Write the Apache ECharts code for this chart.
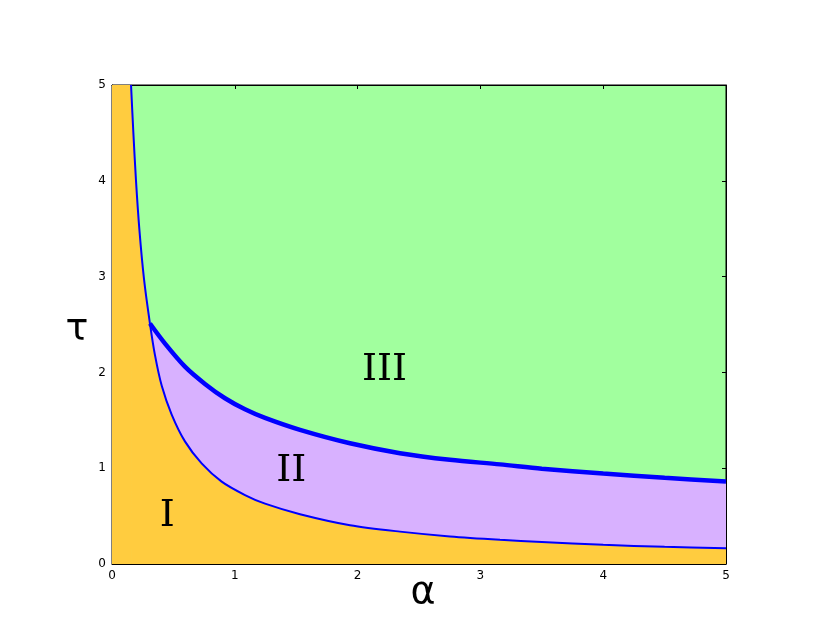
<!DOCTYPE html>
<html>
<head>
<meta charset="utf-8">
<script src="https://cdn.jsdelivr.net/npm/echarts@6/dist/echarts.min.js"></script>
<style>html,body{margin:0;padding:0;background:#fff}#c{width:830px;height:635px}</style>
</head>
<body>
<div id="c"></div>
<script>
// boundary between region I and region II/III (thin curve), [alpha, tau]
const lowerCurve = [[0.155,5.0],[0.174,4.5],[0.195,4.01],[0.223,3.49],[0.261,2.97],[0.309,2.51],[0.350,2.18],[0.405,1.86],[0.486,1.56],[0.594,1.28],[0.730,1.05],[0.893,0.86],[1.083,0.72],[1.246,0.63],[1.531,0.52],[1.938,0.405],[2.345,0.338],[2.752,0.288],[3.16,0.253],[3.5,0.23],[4.0,0.2],[4.5,0.18],[5.0,0.165]];
// boundary between region II and region III (thick curve)
const upperCurve = [[0.309,2.51],[0.432,2.30],[0.594,2.06],[0.757,1.88],[0.920,1.73],[1.083,1.615],[1.246,1.525],[1.531,1.40],[1.938,1.26],[2.345,1.157],[2.752,1.088],[3.16,1.04],[3.5,0.995],[4.0,0.945],[4.5,0.9],[5.0,0.86]];
// region I above the plot top for small alpha
const leftStrip = [[0,5],[0.155,5]];
const regionLabels = [{name:'I', value:[0.45,0.50]},{name:'II', value:[1.46,0.97]},{name:'III', value:[2.22,2.02]}];
const xAxisTitle = 'α', yAxisTitle = 'τ';

const ORANGE = '#FFCC3F', GREEN = '#A1FF9E', PURPLE = '#D8B1FF', BLUE = '#0000FF';

const chart = echarts.init(document.getElementById('c'), null, {renderer:'canvas'});
const axisCommon = {
  type:'value', min:0, max:5, interval:1,
  axisLine:{show:true, onZero:false, lineStyle:{color:'#000', width:1}},
  axisTick:{show:true, inside:true, length:4, lineStyle:{color:'#000'}},
  splitLine:{show:false},
  axisLabel:{color:'#000', fontSize:12, fontFamily:'DejaVu Sans', margin:6}
};
const titleStyle = {fontSize:38, fontFamily:'DejaVu Sans', fill:'#000', textAlign:'center', textVerticalAlign:'middle'};
chart.setOption({
  animation:false,
  backgroundColor:'#fff',
  grid:{left:112, right:104, top:85, bottom:71, show:true, backgroundColor:GREEN, borderColor:'#000', borderWidth:1, containLabel:false},
  xAxis:[
    Object.assign({}, axisCommon, {position:'bottom'}),
    Object.assign({}, axisCommon, {position:'top', axisLabel:{show:false}})
  ],
  yAxis:[
    Object.assign({}, axisCommon, {position:'left'}),
    Object.assign({}, axisCommon, {position:'right', axisLabel:{show:false}})
  ],
  graphic:[
    {type:'text', style:Object.assign({text:xAxisTitle}, titleStyle), x:423, y:593},
    {type:'text', style:Object.assign({text:yAxisTitle}, titleStyle), x:77, y:330}
  ],
  series:[
    {type:'line', data:upperCurve, smooth:0.3, symbol:'none', lineStyle:{width:0}, areaStyle:{color:PURPLE, opacity:1}, z:1},
    {type:'line', data:leftStrip, symbol:'none', lineStyle:{width:0}, areaStyle:{color:ORANGE, opacity:1}, z:2},
    {type:'line', data:lowerCurve, smooth:0.3, symbol:'none', lineStyle:{width:0}, areaStyle:{color:ORANGE, opacity:1}, z:2},
    {type:'line', data:lowerCurve, smooth:0.3, symbol:'none', lineStyle:{width:2, color:BLUE}, z:3},
    {type:'line', data:upperCurve, smooth:0.3, symbol:'none', lineStyle:{width:4.5, color:BLUE}, z:4},
    {type:'scatter', data:regionLabels, symbolSize:0, z:5, itemStyle:{opacity:1},
      label:{show:true, position:'inside', formatter:p=>p.name, fontSize:38, fontFamily:'DejaVu Serif', color:'#000', opacity:1}}
  ]
});
</script>
</body>
</html>
